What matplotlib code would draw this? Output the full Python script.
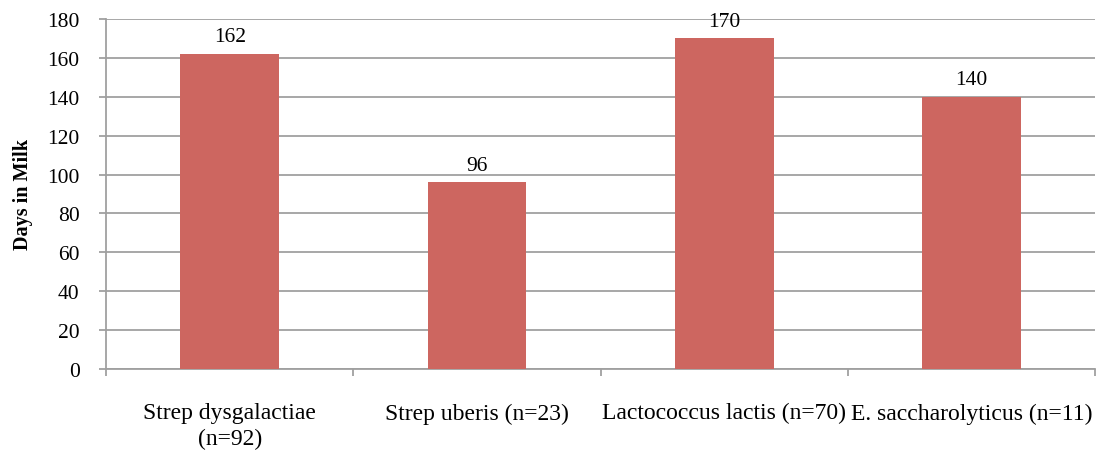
import numpy as np
import matplotlib.pyplot as plt

# Days in milk by pathogen
categories = ['Strep dysgalactiae\n(n=92)', 'Strep uberis (n=23)',
              'Lactococcus lactis (n=70)', 'E. saccharolyticus (n=11)']
days = [162, 96, 170, 140]

plt.rcParams['font.family'] = ['Liberation Serif', 'DejaVu Serif']

fig = plt.figure(figsize=(10.99, 4.52), dpi=100)
ax = fig.add_axes([0.0965, 0.1814, 0.9, 0.7744])

x = np.arange(len(categories))
bars = ax.bar(x, days, width=0.4, color='#CD6660', zorder=3)
for b, v in zip(bars, days):
    ax.text(b.get_x() + b.get_width() / 2, v + 4, str(v),
            ha='center', va='bottom', fontsize=15.5)

ax.set_xlim(-0.5, len(categories) - 0.5)
ax.set_ylim(0, 180)
ax.set_yticks(np.arange(0, 181, 20))
ax.yaxis.grid(True, color='#A0A0A0', linewidth=1.3, zorder=0)

# category labels centred, tick marks on the boundaries
ax.set_xticks(x)
ax.set_xticklabels(categories, fontsize=17, linespacing=1.25)
ax.tick_params(axis='x', which='major', length=0, pad=24)
ax.set_xticks(np.arange(-0.5, len(categories)), minor=True)
ax.tick_params(axis='x', which='minor', length=5, width=1.3, color='#A0A0A0')
ax.tick_params(axis='y', length=5, width=1.3, color='#A0A0A0', labelsize=15.5, pad=14)

for s in ['top', 'right']:
    ax.spines[s].set_visible(False)
for s in ['left', 'bottom']:
    ax.spines[s].set_color('#A0A0A0')
    ax.spines[s].set_linewidth(1.3)

ax.set_ylabel('Days in Milk', fontsize=14.5, fontweight='bold', labelpad=10)

fig.savefig('out.png', dpi=100)
